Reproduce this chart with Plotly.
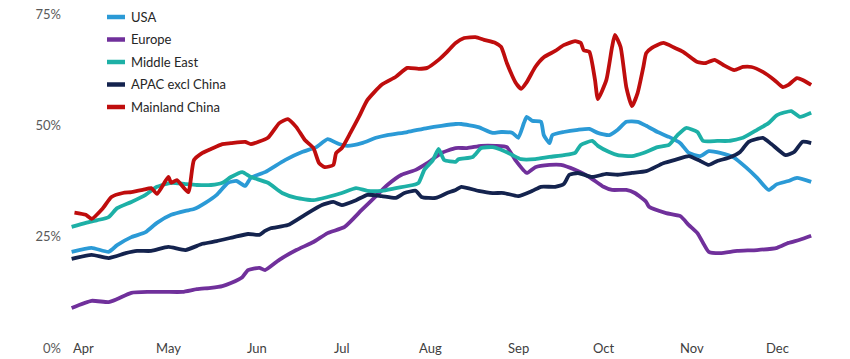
import plotly.graph_objects as go

# ---- axis labels ----
months = ["Apr", "May", "Jun", "Jul", "Aug", "Sep", "Oct", "Nov", "Dec"]
month_start_day = [0, 30, 61, 91, 122, 153, 183, 214, 244]   # days since 1 Apr
y_tick_vals = [0, 25, 50, 75]
y_tick_text = ["0%", "25%", "50%", "75%"]

# ---- series (x = days since 1 Apr, y = %) ----
usa_day = [-4, 3, 9, 12, 17, 22, 26, 31, 36, 39, 43, 47, 51, 54, 57, 59, 64, 71, 77, 82, 86, 90, 93, 98,
           103, 107, 114, 121, 126, 131, 133, 139, 144, 147, 151, 153, 155, 156, 158, 161, 162, 164, 165,
           169, 174, 178, 181, 185, 188, 191, 195, 198, 202, 206, 210, 213, 217, 220, 224, 229, 233, 237,
           241, 244, 248, 251, 256]
usa_pct = [21.6, 22.5, 21.6, 23.1, 24.9, 26.0, 28.1, 29.9, 30.8, 31.2, 32.6, 34.4, 37.1, 37.5, 36.4, 38.2,
           39.5, 42.2, 44.0, 45.1, 46.9, 45.8, 45.4, 46.0, 47.2, 47.8, 48.5, 49.4, 49.9, 50.3, 50.3, 49.6,
           48.3, 48.5, 48.3, 47.2, 50.5, 51.9, 51.0, 50.8, 47.8, 46.0, 47.8, 48.5, 49.0, 49.2, 48.3, 47.8,
           49.0, 50.8, 50.8, 49.9, 48.5, 47.4, 46.0, 43.8, 43.1, 44.2, 43.8, 42.7, 40.6, 38.2, 35.5, 36.8,
           37.5, 38.2, 37.3]

europe_day = [-4, 3, 9, 12, 17, 23, 29, 35, 40, 45, 49, 52, 56, 58, 62, 64, 69, 75, 81, 86, 92, 98, 103,
              107, 112, 117, 121, 126, 131, 135, 140, 145, 149, 152, 156, 159, 164, 168, 173, 178, 183,
              186, 191, 194, 198, 199, 205, 210, 213, 216, 218, 220, 224, 230, 237, 244, 248, 252, 256]
europe_pct = [9.0, 10.6, 10.3, 11.0, 12.4, 12.6, 12.6, 12.6, 13.2, 13.5, 13.9, 14.6, 15.9, 17.5, 18.0,
              17.5, 19.8, 22.0, 23.8, 25.8, 27.2, 31.0, 34.1, 36.6, 38.9, 40.0, 41.5, 43.8, 44.9, 44.9,
              45.4, 45.4, 45.1, 42.2, 39.3, 40.6, 41.1, 41.1, 40.0, 38.4, 36.2, 35.5, 35.5, 34.8, 32.8,
              31.7, 30.3, 29.6, 27.6, 25.8, 23.6, 21.6, 21.3, 21.8, 22.0, 22.5, 23.6, 24.3, 25.2]

mideast_day = [-4, 1, 5, 9, 12, 17, 22, 26, 31, 36, 40, 45, 49, 52, 56, 59, 65, 70, 75, 81, 86, 91, 96,
               100, 105, 110, 116, 118, 120, 123, 125, 127, 131, 132, 137, 140, 144, 147, 151, 154, 159,
               164, 169, 173, 175, 179, 181, 185, 188, 193, 197, 202, 206, 209, 212, 216, 218, 223, 227,
               232, 237, 241, 244, 249, 252, 256]
mideast_pct = [27.2, 28.1, 28.7, 29.4, 31.4, 32.8, 34.4, 36.2, 37.1, 36.8, 36.6, 36.6, 37.1, 38.4, 39.5,
               38.4, 37.1, 34.8, 33.7, 33.2, 33.9, 34.8, 35.9, 35.3, 35.3, 35.9, 36.6, 37.1, 40.0, 42.2,
               44.7, 42.2, 41.8, 42.4, 42.9, 44.9, 45.1, 44.5, 43.3, 42.4, 42.4, 42.9, 43.3, 43.8, 45.6,
               46.5, 45.4, 44.0, 43.3, 43.1, 43.8, 45.1, 45.6, 47.8, 49.4, 48.5, 46.5, 46.5, 46.5, 47.2,
               49.0, 50.5, 52.3, 53.2, 51.9, 52.8]

apac_day = [-4, 3, 9, 15, 19, 24, 30, 36, 42, 47, 53, 58, 62, 64, 66, 72, 78, 84, 88, 91, 96, 100, 105,
            110, 113, 117, 119, 124, 128, 131, 133, 139, 144, 148, 153, 158, 161, 166, 169, 171, 174, 179,
            184, 188, 193, 198, 204, 209, 213, 217, 220, 223, 227, 231, 234, 239, 242, 247, 250, 253, 256]
apac_pct = [20.0, 20.9, 20.2, 21.3, 21.8, 21.8, 22.7, 22.0, 23.4, 24.0, 24.9, 25.6, 25.4, 26.3, 26.9,
            27.6, 29.9, 32.1, 32.8, 32.1, 33.2, 34.4, 34.1, 33.7, 34.8, 35.3, 33.9, 33.7, 34.8, 35.5,
            36.2, 35.3, 34.8, 34.8, 34.1, 35.3, 36.2, 36.2, 36.8, 38.9, 39.3, 38.4, 39.1, 38.9, 39.3,
            39.7, 41.5, 42.4, 43.1, 42.0, 41.1, 42.0, 42.7, 44.0, 46.3, 47.2, 45.8, 43.3, 44.0, 46.3, 46.0]

china_day = [-3, 1, 3, 7, 10, 14, 17, 21, 24, 26, 30, 31, 33, 37, 39, 42, 45, 49, 52, 57, 59, 65, 69, 72,
             75, 78, 81, 83, 85, 88, 89, 91, 94, 97, 100, 105, 110, 114, 118, 121, 125, 128, 131, 134,
             138, 141, 145, 147, 149, 152, 154, 156, 159, 162, 166, 169, 173, 175, 176, 178, 180, 181,
             184, 186, 187, 189, 191, 193, 195, 197, 198, 200, 204, 208, 211, 216, 219, 222, 225, 229,
             232, 235, 239, 243, 246, 248, 251, 253, 256]
china_pct = [30.4, 29.9, 29.0, 31.4, 33.9, 34.8, 35.0, 35.5, 35.9, 34.6, 38.4, 37.1, 37.7, 35.0, 42.2,
             43.8, 44.7, 45.8, 46.0, 46.3, 45.8, 47.2, 50.5, 51.4, 49.6, 46.7, 44.9, 41.5, 40.6, 41.1,
             43.8, 44.9, 48.3, 51.9, 55.7, 59.1, 60.9, 62.9, 62.7, 62.9, 64.7, 66.5, 68.5, 69.6, 69.8,
             69.2, 68.5, 67.6, 64.0, 59.7, 58.2, 59.7, 63.1, 65.3, 66.7, 68.0, 68.9, 68.5, 66.9, 66.5,
             60.2, 55.9, 60.2, 67.6, 70.3, 67.6, 58.6, 54.3, 57.3, 63.1, 66.2, 67.4, 68.5, 67.4, 66.5,
             64.2, 64.0, 64.7, 63.6, 62.4, 63.1, 63.1, 62.0, 60.2, 58.6, 59.1, 60.6, 60.2, 59.1]

series = [
    ("USA", usa_day, usa_pct, "#2B9AD6"),
    ("Europe", europe_day, europe_pct, "#70309B"),
    ("Middle East", mideast_day, mideast_pct, "#1DB0A6"),
    ("APAC excl China", apac_day, apac_pct, "#14234E"),
    ("Mainland China", china_day, china_pct, "#BF0D0D"),
]

FONT = "Lato, 'Open Sans', sans-serif"
W, H = 850, 359
PL, PR, PT, PB = 65, 820, 14, 348   # wanted plot area in window pixels
ML, MT, MR, MB = PL, PT, W - PR, H - PB
PW, PH = PR - PL, PB - PT


def px_x(p):   # window pixel -> paper x
    return (p - PL) / PW


def px_y(p):   # window pixel -> paper y
    return (PB - p) / PH


fig = go.Figure()
for i, (name, xd, yv, col) in enumerate(series):
    fig.add_trace(go.Scatter(
        x=xd, y=yv, name=name, mode="lines", showlegend=False,
        line=dict(color=col, width=3.8, shape="spline", smoothing=0.5),
    ))
    # custom legend entry (short swatch like the original)
    ly = 17 + 22.5 * i
    fig.add_shape(type="line", xref="paper", yref="paper",
                  x0=px_x(107), x1=px_x(125), y0=px_y(ly), y1=px_y(ly),
                  line=dict(color=col, width=4.5))
    fig.add_annotation(xref="paper", yref="paper", x=px_x(129), y=px_y(ly),
                       text=name, showarrow=False, xanchor="left", yanchor="middle",
                       font=dict(family=FONT, size=13, color="#262626"))

for d, m in zip(month_start_day, months):
    fig.add_annotation(x=d, y=0, xref="x", yref="y", text=m, showarrow=False,
                       xanchor="center", yanchor="middle",
                       font=dict(family=FONT, size=13, color="#404040"))

fig.update_layout(
    width=W, height=H,
    margin=dict(l=ML, r=MR, t=MT, b=MB, autoexpand=False),
    paper_bgcolor="white", plot_bgcolor="white",
    font=dict(family=FONT, size=13, color="#404040"),
    showlegend=False,
    xaxis=dict(range=[-6.33, 259.1], showgrid=False, zeroline=False, showline=False,
               showticklabels=False, ticks=""),
    yaxis=dict(range=[0, 75], tickvals=y_tick_vals, ticktext=y_tick_text, showgrid=False,
               zeroline=False, showline=False, ticks="", ticklabeloverflow="allow",
               ticklabelstandoff=3,
               tickfont=dict(family=FONT, size=13, color="#595959")),
)

fig.write_html("out.html",
               config={"displayModeBar": False},
               post_script="document.body.style.margin='0';document.body.style.overflow='hidden';")
